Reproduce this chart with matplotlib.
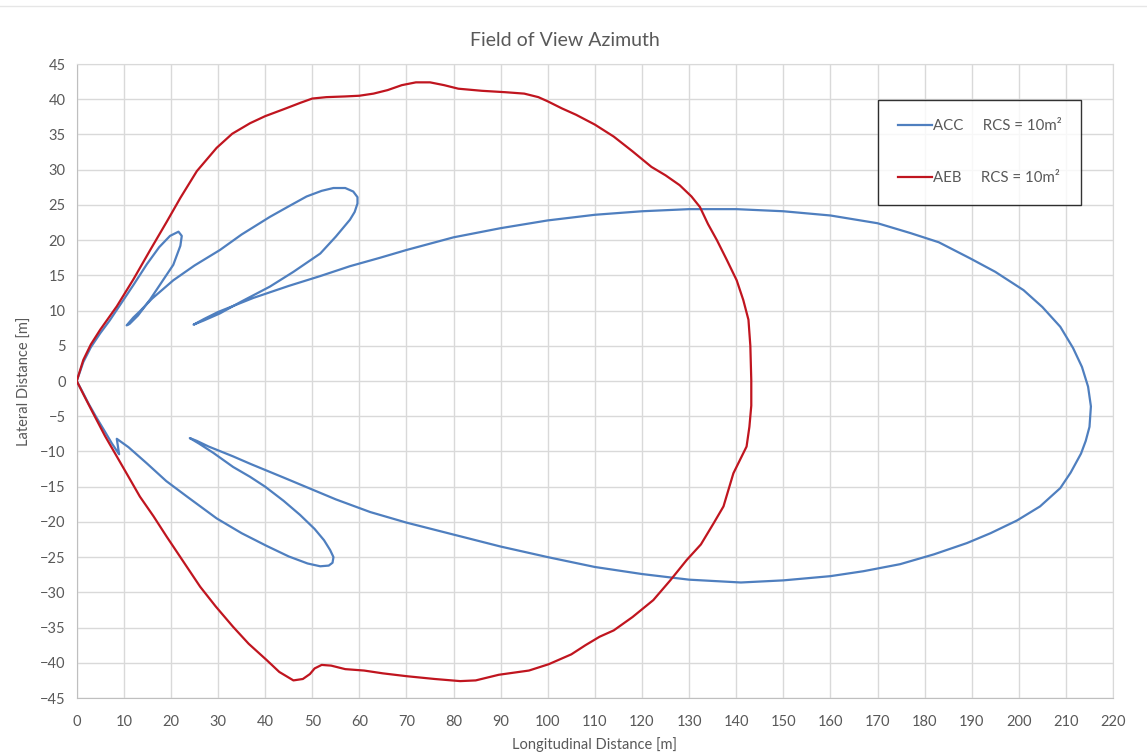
import numpy as np
import matplotlib
matplotlib.use("Agg")
from matplotlib import pyplot as plt
from matplotlib.lines import Line2D

plt.rcParams['font.family'] = ['Lato', 'DejaVu Sans']

# AEB detection contour, RCS = 10 m^2 (longitudinal, lateral) in metres
aeb_x = [0, 1.4, 3, 5, 8.5, 12, 15.6, 19.1, 22, 25.5, 29.7, 33, 36.8, 40, 44, 47.5,
         50, 53, 57, 60, 63, 66, 69, 72, 75, 78, 81, 86, 91, 95, 98, 100, 103, 106,
         110, 114, 118, 122, 125, 128, 130.5, 132.3, 134, 135.9, 138, 140.1, 141.5,
         142.6, 143, 143.2, 143.2, 142.8, 142.2, 140.8, 139.4, 137.3, 135.2, 132.5,
         129.5, 126, 122.4, 118, 114, 111, 108, 105, 100.2, 96, 89.6, 84.7, 81.4, 76,
         70, 65, 61, 57, 54, 52, 50.5, 49.5, 48, 46, 43, 40.3, 36.5, 33.2, 29.5, 26.2,
         22.5, 19.1, 16.3, 13.4, 11, 8.5, 6, 3.5, 1.5, 0]
aeb_y = [0, 3.0, 5.2, 7.3, 10.6, 14.4, 18.6, 22.6, 26.0, 29.8, 33.1, 35.1, 36.6, 37.6,
         38.6, 39.5, 40.1, 40.3, 40.4, 40.5, 40.8, 41.3, 42.0, 42.4, 42.4, 42.0, 41.5,
         41.2, 41.0, 40.8, 40.3, 39.7, 38.7, 37.8, 36.4, 34.7, 32.6, 30.4, 29.2, 27.8,
         26.2, 24.7, 22.3, 20.0, 17.2, 14.3, 11.5, 8.7, 5.0, 0.1, -3.5, -6.5, -9.3,
         -11.2, -13.1, -17.8, -20.2, -23.2, -25.4, -28.3, -31.1, -33.5, -35.4, -36.3,
         -37.5, -38.8, -40.2, -41.1, -41.7, -42.5, -42.6, -42.3, -41.9, -41.5, -41.1,
         -40.9, -40.4, -40.3, -40.8, -41.6, -42.3, -42.5, -41.3, -39.6, -37.3, -34.9,
         -32.0, -29.2, -25.5, -22.1, -19.2, -16.4, -13.6, -10.7, -7.8, -4.6, -2.0, 0]

# ACC detection contour, RCS = 10 m^2
acc_x = [0, 1.4, 3, 5, 7, 9.3, 12, 14.9, 17.5, 19.8, 21.6, 22.3, 22.0, 20.5, 18, 15.6,
         13, 11.2, 10.6, 12, 13.4, 16, 20.5, 25, 30.4, 35, 41, 45, 48.8, 52, 54.5, 57,
         58.7, 59.6, 59.6, 59, 58, 55, 51.7, 46, 41, 35, 30.4, 27, 24.8, 27, 30, 37.5,
         45, 51.7, 58, 64.4, 70, 80, 90, 100, 110, 120, 130, 140, 150, 160, 170, 177,
         183, 189.7, 195, 201, 205, 208.8, 211.5, 213.4, 214.7, 215.3, 215, 214.2,
         213.2, 211, 208.8, 204.5, 199.6, 194, 189, 182, 174.8, 167, 160, 150, 141,
         130, 120, 110, 100, 90, 80, 70, 62.3, 55, 50, 43.9, 37, 33.2, 28, 25.5, 24,
         26, 29, 33.2, 36.8, 40, 43.9, 47.4, 50.5, 52.5, 53.8, 54.5, 54.3, 53.5, 51.7,
         49, 45, 40.3, 35, 29.7, 23.4, 19, 14.9, 11, 8.5, 9.0, 7.5, 6, 4.2, 2.5, 1.2, 0]
acc_y = [0, 2.7, 4.8, 6.8, 8.6, 10.9, 13.6, 16.6, 19.0, 20.6, 21.2, 20.6, 19.2, 16.5,
         14.0, 11.6, 9.3, 8.1, 7.9, 9.0, 9.9, 11.7, 14.3, 16.4, 18.6, 20.8, 23.3, 24.8,
         26.2, 27.0, 27.4, 27.4, 26.9, 26.1, 25.2, 24.0, 22.9, 20.5, 18.1, 15.5, 13.4,
         11.3, 9.6, 8.6, 8.0, 8.8, 9.8, 11.8, 13.5, 14.9, 16.3, 17.5, 18.6, 20.4, 21.7,
         22.8, 23.6, 24.1, 24.4, 24.4, 24.1, 23.5, 22.4, 21.0, 19.7, 17.4, 15.5, 12.9,
         10.5, 7.7, 4.7, 2.0, -0.8, -3.6, -6.5, -8.5, -10.3, -13.0, -15.2, -17.8,
         -19.8, -21.6, -23.0, -24.6, -26.0, -27.0, -27.7, -28.3, -28.6, -28.2, -27.4,
         -26.4, -25.0, -23.5, -21.8, -20.1, -18.6, -16.8, -15.4, -13.7, -11.8, -10.7,
         -9.3, -8.5, -8.1, -8.9, -10.2, -12.2, -13.6, -15.0, -17.0, -19.0, -21.0,
         -22.6, -24.0, -25.0, -25.8, -26.2, -26.3, -25.9, -24.9, -23.4, -21.6, -19.5,
         -16.4, -14.2, -11.7, -9.4, -8.2, -10.4, -8.9, -7.2, -5.2, -3.2, -1.5, 0]

x_ticks = list(range(0, 221, 10))
y_ticks = list(range(-45, 46, 5))

grey_txt = '#595959'
grid_col = '#D9D9D9'

fig = plt.figure(figsize=(11.47, 7.56), dpi=100)
ax = fig.add_axes([0.0669, 0.0767, 0.9035, 0.8386])

ax.plot(acc_x, acc_y, color='#4F7FBF', lw=1.6, label='ACC     RCS = 10m\u00b2', zorder=3)
ax.plot(aeb_x, aeb_y, color='#C0151F', lw=1.6, label='AEB     RCS = 10m\u00b2', zorder=4)

ax.set_xlim(0, 220)
ax.set_ylim(-45, 45)
ax.set_xticks(x_ticks)
ax.set_yticks(y_ticks)
ax.grid(True, color=grid_col, lw=1)
ax.set_axisbelow(True)
for s in ax.spines.values():
    s.set_color(grid_col)
ax.spines['left'].set_color('#BFBFBF')
ax.spines['bottom'].set_color('#BFBFBF')
ax.tick_params(length=0, labelsize=10.5, labelcolor=grey_txt)
ax.tick_params(axis='x', pad=12)
ax.tick_params(axis='y', pad=8)

ax.set_xlabel('Longitudinal Distance [m]', fontsize=10.5, color=grey_txt, labelpad=6)
ax.set_ylabel('Lateral Distance [m]', fontsize=10.5, color=grey_txt, labelpad=6)

fig.text(565 / 1147, 1 - 40 / 756, 'Field of View Azimuth', ha='center', va='center',
         fontsize=14, color=grey_txt)

leg = ax.legend(loc='upper left', bbox_to_anchor=(878 / 1147, 1 - 100 / 756),
                bbox_transform=fig.transFigure, fontsize=10.8, frameon=True,
                fancybox=False, edgecolor='black', handlelength=2.3,
                handletextpad=0.05, labelspacing=2.5, borderpad=1.3,
                borderaxespad=0)
leg.get_frame().set_linewidth(1.0)
for t in leg.get_texts():
    t.set_color(grey_txt)

# faint chart-area edge along the top
fig.add_artist(Line2D([0, 1], [1 - 6 / 756] * 2, color='#E6E6E6', lw=1,
                      transform=fig.transFigure))

fig.savefig('out.png', dpi=100)
